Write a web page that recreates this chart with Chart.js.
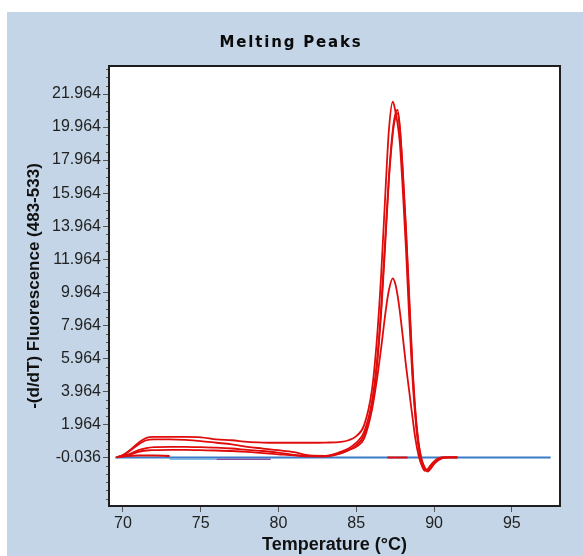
<!DOCTYPE html>
<html>
<head>
<meta charset="utf-8">
<script src="https://cdn.jsdelivr.net/npm/chart.js@4/dist/chart.umd.min.js"></script>
<style>
  html, body { margin: 0; padding: 0; background: #fff; }
  #wrap { width: 583px; height: 556px; }
</style>
</head>
<body>
<div id="wrap"><canvas id="meltChart" width="583" height="556"></canvas></div>
<script>
// 温度（℃）
const temps = [69.6, 70.0, 70.5, 71.0, 71.5, 72.0, 73.0, 74.0, 75.0, 76.0,
  77.0, 78.0, 79.0, 80.0, 81.0, 82.0, 83.0, 84.0, 84.5, 85.0,
  85.5, 86.0, 86.3, 86.6, 86.9, 87.1, 87.35, 87.5, 87.65, 87.8,
  88.0, 88.2, 88.4, 88.6, 88.8, 89.0, 89.2, 89.4, 89.6, 89.8,
  90.0, 90.3, 90.6, 91.0, 91.5];

// -(d/dT) 各サンプル
const sampleA = [-0.03, 0.1, 0.45, 0.85, 1.15, 1.2, 1.2, 1.2, 1.18, 1.05,
  1.0, 0.9, 0.86, 0.85, 0.85, 0.85, 0.86, 0.9, 1.0, 1.25,
  1.9, 4.0, 6.8, 11.0, 16.5, 19.8, 21.5, 21.0, 20.2, 19.0,
  16.0, 12.5, 8.5, 5.0, 2.4, 0.6, -0.4, -0.85, -0.75, -0.5,
  -0.3, -0.1, -0.04, -0.036, -0.036];
const sampleB = [-0.03, 0.1, 0.4, 0.75, 1.0, 1.05, 1.05, 1.02, 0.95, 0.85,
  0.75, 0.6, 0.5, 0.4, 0.28, 0.08, 0.06, 0.3, 0.5, 0.85,
  1.5, 3.3, 5.5, 9.0, 13.8, 17.0, 19.8, 20.7, 21.0, 20.0,
  17.0, 13.5, 9.5, 5.5, 2.6, 0.8, -0.2, -0.7, -0.9, -0.7,
  -0.45, -0.2, -0.06, -0.036, -0.036];
const sampleC = [-0.03, 0.06, 0.2, 0.4, 0.52, 0.58, 0.6, 0.6, 0.58, 0.55,
  0.5, 0.42, 0.35, 0.25, 0.12, 0.04, 0.03, 0.2, 0.4, 0.6,
  1.1, 2.8, 4.5, 6.6, 8.9, 10.1, 10.8, 10.5, 9.8, 8.8,
  7.2, 5.5, 4.0, 2.5, 1.1, 0.1, -0.5, -0.8, -0.75, -0.5,
  -0.3, -0.1, -0.04, -0.036, -0.036];
const sampleE = [-0.03, 0.04, 0.15, 0.3, 0.38, 0.4, 0.42, 0.42, 0.4, 0.38,
  0.35, 0.3, 0.22, 0.15, 0.08, 0.03, 0.03, 0.22, 0.4, 0.7,
  1.3, 3.0, 5.2, 8.7, 13.5, 16.8, 19.6, 20.5, 20.8, 19.9,
  17.2, 13.8, 9.8, 5.8, 2.8, 0.9, -0.15, -0.65, -0.85, -0.65,
  -0.4, -0.18, -0.05, -0.036, -0.036];

// ほぼフラットなサンプル（見えている部分のみ）
const flatTemps = [69.6, 70.3, 71.0, 72.0, 73.0, 80.0, 87.0, 88.3];
const flatVals  = [-0.03, 0.05, 0.08, 0.08, 0.05, null, -0.036, -0.036];

// ブランク（青）
const blankTemps = [69.5, 75, 80, 85, 90, 95, 97.5];
const blankVals  = [-0.036, -0.036, -0.036, -0.036, -0.036, -0.036, -0.036];
const blank2Temps = [73.0, 76.0];
const blank2Vals  = [-0.15, -0.15];
const blank3Temps = [76.0, 79.5];
const blank3Vals  = [-0.15, -0.15];

// 軸目盛
const xTicks = [70, 75, 80, 85, 90, 95];
const yTicks = [-0.036, 1.964, 3.964, 5.964, 7.964, 9.964, 11.964, 13.964, 15.964, 17.964, 19.964, 21.964];
const yTickLabels = ['-0.036', '1.964', '3.964', '5.964', '7.964', '9.964', '11.964', '13.964', '15.964', '17.964', '19.964', '21.964'];

const RED = '#e00c0c';
const BG = '#c3d5e7';
const FONT = "'Liberation Sans', Arial, sans-serif";

function pts(xs, ys) {
  return xs.map((x, i) => ({ x: x, y: ys[i] }));
}

function line(data, color, width) {
  return {
    data: data,
    borderColor: color,
    borderWidth: width,
    pointRadius: 0,
    cubicInterpolationMode: 'monotone',
    fill: false
  };
}

// 背景・枠・タイトル・補助目盛
const decoPlugin = {
  id: 'deco',
  beforeDraw(chart) {
    const { ctx, chartArea: a } = chart;
    ctx.save();
    ctx.fillStyle = '#fff';
    ctx.fillRect(0, 0, chart.width, chart.height);
    ctx.fillStyle = BG;
    ctx.fillRect(7, 12, chart.width - 7, chart.height - 12);
    ctx.fillStyle = '#fff';
    ctx.fillRect(a.left, a.top, a.right - a.left, a.bottom - a.top);
    ctx.restore();
  },
  afterDraw(chart) {
    const { ctx, chartArea: a } = chart;
    const ys = chart.scales.y;
    ctx.save();
    // 補助目盛（0.5刻み）
    ctx.strokeStyle = '#555';
    ctx.lineWidth = 1;
    for (let v = -2.536; v < ys.max; v += 0.5) {
      const p = Math.round(ys.getPixelForValue(v)) + 0.5;
      ctx.beginPath();
      ctx.moveTo(a.left - 3, p);
      ctx.lineTo(a.left, p);
      ctx.stroke();
    }
    // 枠
    ctx.strokeStyle = '#1e1e1e';
    ctx.lineWidth = 2;
    ctx.strokeRect(a.left, a.top, a.right - a.left, a.bottom - a.top);
    // タイトル
    ctx.fillStyle = '#0a0a0a';
    ctx.font = "bold 15px 'DejaVu Sans', sans-serif";
    ctx.letterSpacing = '1.8px';
    ctx.textAlign = 'center';
    ctx.textBaseline = 'middle';
    ctx.fillText('Melting Peaks', 291, 43);
    ctx.restore();
  }
};

const ctx = document.getElementById('meltChart').getContext('2d');
new Chart(ctx, {
  type: 'line',
  data: {
    datasets: [
      line(pts(flatTemps, flatVals), RED, 2),
      line(pts(temps, sampleA), RED, 1.8),
      line(pts(temps, sampleB), RED, 1.8),
      line(pts(temps, sampleE), RED, 1.8),
      line(pts(temps, sampleC), RED, 1.8),
      line(pts(blankTemps, blankVals), '#3a7cc8', 2),
      line(pts(blank2Temps, blank2Vals), '#86bde6', 1.5),
      line(pts(blank3Temps, blank3Vals), '#8a4c9c', 1.5)
    ]
  },
  options: {
    responsive: false,
    animation: false,
    events: [],
    layout: { padding: { left: 0, top: 66, right: 23, bottom: 0 } },
    plugins: {
      legend: { display: false },
      tooltip: { enabled: false },
      title: { display: false }
    },
    scales: {
      x: {
        type: 'linear',
        min: 69.1,
        max: 98.1,
        afterBuildTicks: s => { s.ticks = xTicks.map(v => ({ value: v })); },
        afterFit: s => { s.height = 50; },
        border: { display: false },
        grid: { drawOnChartArea: false, drawTicks: true, tickLength: 6, tickColor: '#555' },
        ticks: { color: '#222', font: { family: FONT, size: 16 }, padding: 2, maxRotation: 0 },
        title: {
          display: true,
          text: 'Temperature (°C)',
          color: '#111',
          font: { family: FONT, size: 18, weight: 'bold' },
          padding: { top: 4, bottom: 0 }
        }
      },
      y: {
        type: 'linear',
        min: -2.98,
        max: 23.66,
        afterBuildTicks: s => { s.ticks = yTicks.map(v => ({ value: v })); },
        afterFit: s => { s.width = 109; },
        border: { display: false },
        grid: { drawOnChartArea: false, drawTicks: true, tickLength: 6, tickColor: '#555' },
        ticks: {
          color: '#222',
          font: { family: FONT, size: 16 },
          padding: 2,
          callback: (v, i) => yTickLabels[i]
        },
        title: {
          display: true,
          text: '-(d/dT) Fluorescence (483-533)',
          color: '#111',
          font: { family: FONT, size: 17, weight: 'bold' },
          padding: { top: 24, bottom: 0 }
        }
      }
    }
  },
  plugins: [decoPlugin]
});
</script>
</body>
</html>
